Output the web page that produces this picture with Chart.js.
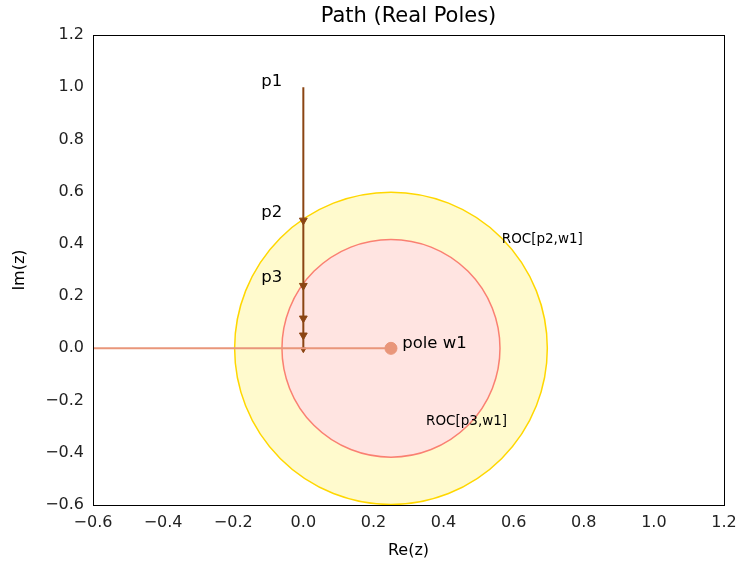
<!DOCTYPE html>
<html>
<head>
<meta charset="utf-8">
<script src="https://cdn.jsdelivr.net/npm/chart.js@4/dist/chart.umd.min.js"></script>
<style>
  body { margin: 0; background: #fff; }
  #wrap { width: 736px; height: 564px; }
</style>
</head>
<body>
<div id="wrap"><canvas id="path_chart"></canvas></div>
<script>
// path of the pole p (along the imaginary axis)
const pathRe = [0, 0, 0, 0, 0, 0];
const pathIm = [1.0, 0.49, 0.24, 0.115, 0.05, -0.005];
// pole w1 and the line towards it
const poleRe = [0.25];
const poleIm = [0.0];
const lineRe = [-0.6, 0.25];
const lineIm = [0.0, 0.0];
// ROC regions: center and radii (data units)
const rocNames = ["ROC[p2,w1]", "ROC[p3,w1]"];
const rocCenterRe = [0.25, 0.25];
const rocCenterIm = [0.0, 0.0];
const rocRadiusRe = [0.446, 0.311];
const rocRadiusIm = [0.598, 0.417];
// text labels
const labelText = ["p1", "p2", "p3", "pole w1", "ROC[p2,w1]", "ROC[p3,w1]"];
const labelRe = [-0.12, -0.12, -0.12, 0.282, 0.566, 0.35];
const labelIm = [1.02, 0.52, 0.27, 0.017, 0.415, -0.282];
// axis ticks
const tickVals = [-0.6, -0.4, -0.2, 0.0, 0.2, 0.4, 0.6, 0.8, 1.0, 1.2];
const chartTitle = "Path (Real Poles)";

const FONT = "'DejaVu Sans', sans-serif";

function toPts(xs, ys) {
  return xs.map((x, i) => ({ x: x, y: ys[i] }));
}

let rocPlugin = {
  id: "roc",
  beforeDatasetsDraw(chart) {
    const { ctx, scales: { x, y }, chartArea } = chart;
    const fills = ["#fffacd", "#ffe4e1"];
    const edges = ["#ffd700", "#fa8072"];
    ctx.save();
    ctx.beginPath();
    ctx.rect(chartArea.left, chartArea.top, chartArea.right - chartArea.left, chartArea.bottom - chartArea.top);
    ctx.clip();
    for (let i = 0; i < rocNames.length; i++) {
      const cx = x.getPixelForValue(rocCenterRe[i]);
      const cy = y.getPixelForValue(rocCenterIm[i]);
      const rx = Math.abs(x.getPixelForValue(rocCenterRe[i] + rocRadiusRe[i]) - cx);
      const ry = Math.abs(y.getPixelForValue(rocCenterIm[i] + rocRadiusIm[i]) - cy);
      ctx.beginPath();
      ctx.ellipse(cx, cy, rx, ry, 0, 0, Math.PI * 2);
      ctx.fillStyle = fills[i];
      ctx.fill();
      ctx.lineWidth = 1.5;
      ctx.strokeStyle = edges[i];
      ctx.stroke();
    }
    ctx.restore();
  },
  afterDraw(chart) {
    const { ctx, scales: { x, y }, chartArea } = chart;
    ctx.save();
    // title, centred over the plot area
    ctx.fillStyle = "#000";
    ctx.textAlign = "center";
    ctx.textBaseline = "middle";
    ctx.font = "21px " + FONT;
    ctx.fillText(chartTitle, (chartArea.left + chartArea.right) / 2, 17);
    // labels
    ctx.textAlign = "left";
    for (let i = 0; i < labelText.length; i++) {
      ctx.font = (labelText[i].startsWith("ROC") ? "13.5px " : "16.5px ") + FONT;
      ctx.fillText(labelText[i], x.getPixelForValue(labelRe[i]), y.getPixelForValue(labelIm[i]));
    }
    // frame
    ctx.strokeStyle = "#000";
    ctx.lineWidth = 1;
    ctx.strokeRect(Math.round(chartArea.left) + 0.5, Math.round(chartArea.top) + 0.5,
      Math.round(chartArea.right - chartArea.left), Math.round(chartArea.bottom - chartArea.top));
    ctx.restore();
  }
};

let ctx = document.getElementById("path_chart");

let datapoints = {
  datasets: [
    {
      label: "to pole",
      data: toPts(lineRe, lineIm),
      showLine: true,
      borderColor: "#e9967a",
      borderWidth: 2,
      pointRadius: 0
    },
    {
      label: "path",
      data: toPts(pathRe, pathIm),
      showLine: true,
      borderColor: "#8b4513",
      borderWidth: 2,
      pointStyle: "triangle",
      rotation: 180,
      pointRadius: pathIm.map((v, i) => (i === 0 ? 0 : i === pathIm.length - 1 ? 3 : 4.5)),
      pointBackgroundColor: "#8b4513",
      pointBorderColor: "#8b4513",
      pointBorderWidth: 1
    },
    {
      label: "pole w1",
      data: toPts(poleRe, poleIm),
      pointRadius: 6,
      pointBackgroundColor: "#e9967a",
      pointBorderColor: "#e9967a"
    }
  ]
};

let tickOpts = {
  font: { family: FONT, size: 16 },
  color: "#222"
};

let pathChart = new Chart(ctx, {
  type: "scatter",
  data: datapoints,
  plugins: [rocPlugin],
  options: {
    responsive: true,
    maintainAspectRatio: false,
    animation: false,
    layout: { padding: { left: 0, right: 0, top: 35, bottom: 0 } },
    plugins: {
      legend: { display: false },
      tooltip: { enabled: false },
      title: { display: false }
    },
    scales: {
      x: {
        type: "linear",
        min: -0.6,
        max: 1.2,
        afterBuildTicks: (s) => { s.ticks = tickVals.map(v => ({ value: v })); },
        afterFit: (s) => { s.height = 59; s.paddingRight = 12; s.paddingLeft = 0; },
        grid: { display: false, drawTicks: true, tickLength: 5, tickColor: "#000" },
        border: { color: "#000" },
        ticks: Object.assign({}, tickOpts, {
          padding: 3,
          maxRotation: 0,
          callback: (v) => v.toFixed(1).replace("-", "\u2212")
        }),
        title: {
          display: true,
          text: "Re(z)",
          color: "#000",
          font: { family: FONT, size: 16 },
          padding: { top: 2, bottom: 4 }
        }
      },
      y: {
        type: "linear",
        min: -0.6,
        max: 1.2,
        afterBuildTicks: (s) => { s.ticks = tickVals.map(v => ({ value: v })); },
        afterFit: (s) => { s.width = 93; s.paddingTop = 0; s.paddingBottom = 0; },
        grid: { display: false, drawTicks: true, tickLength: 5, tickColor: "#000" },
        border: { color: "#000" },
        ticks: Object.assign({}, tickOpts, {
          padding: 4,
          callback: (v) => v.toFixed(1).replace("-", "\u2212")
        }),
        title: {
          display: true,
          text: "Im(z)",
          color: "#000",
          font: { family: FONT, size: 16 },
          padding: { top: 10, bottom: 4 }
        }
      }
    }
  }
});
pathChart.render();
</script>
</body>
</html>
